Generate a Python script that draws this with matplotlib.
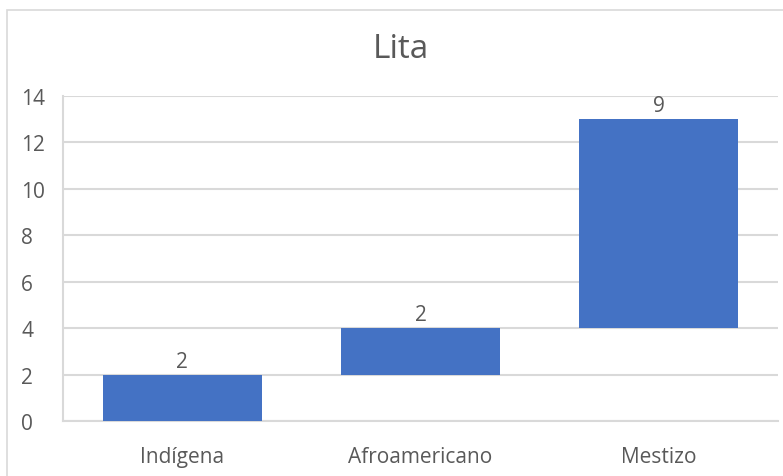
import matplotlib.pyplot as plt
from matplotlib.patches import Rectangle

# Waterfall data
categories = ['Indígena', 'Afroamericano', 'Mestizo']
values = [2, 2, 9]

starts = []
total = 0
for v in values:
    starts.append(total)
    total += v

plt.rcParams['font.family'] = ['Open Sans', 'DejaVu Sans']
text_color = '#595959'
grid_color = '#d9d9d9'

fig = plt.figure(figsize=(7.83, 4.77), dpi=100)
W, H = 783, 477

# outer chart border (cropped on right/bottom)
fig.patches.append(Rectangle((7 / W, -0.1), 1.2, 1.1 - 11 / H,
                             transform=fig.transFigure, fill=False,
                             edgecolor=grid_color, linewidth=1.2))

ax = fig.add_axes([63 / W, (H - 422) / H, (778 - 63) / W, (422 - 97) / H])

x = range(len(categories))
ax.bar(x, values, bottom=starts, width=0.667, color='#4472c4', zorder=3)

for i, (s, v) in enumerate(zip(starts, values)):
    ax.text(i, s + v + 0.12, str(v), ha='center', va='bottom',
            fontsize=15, color=text_color)

ax.set_xlim(-0.5, len(categories) - 0.5)
ax.set_ylim(0, 14)
ax.set_yticks(range(0, 15, 2))
ax.set_xticks(list(x))
ax.set_xticklabels(categories)
ax.tick_params(axis='both', length=0, labelsize=15, labelcolor=text_color)
ax.tick_params(axis='y', pad=30)
ax.tick_params(axis='x', pad=18)
for lab in ax.get_yticklabels():
    lab.set_horizontalalignment('left')

ax.grid(axis='y', color=grid_color, linewidth=1.5, zorder=0)
for side in ['top', 'right']:
    ax.spines[side].set_visible(False)
ax.spines['left'].set_color(grid_color)
ax.spines['left'].set_linewidth(1.5)
ax.spines['bottom'].set_color(grid_color)
ax.spines['bottom'].set_linewidth(1.5)

fig.text(401 / W, (H - 50) / H, 'Lita', ha='center', va='center',
         fontsize=24, color=text_color)

fig.savefig('out.png', dpi=100)
